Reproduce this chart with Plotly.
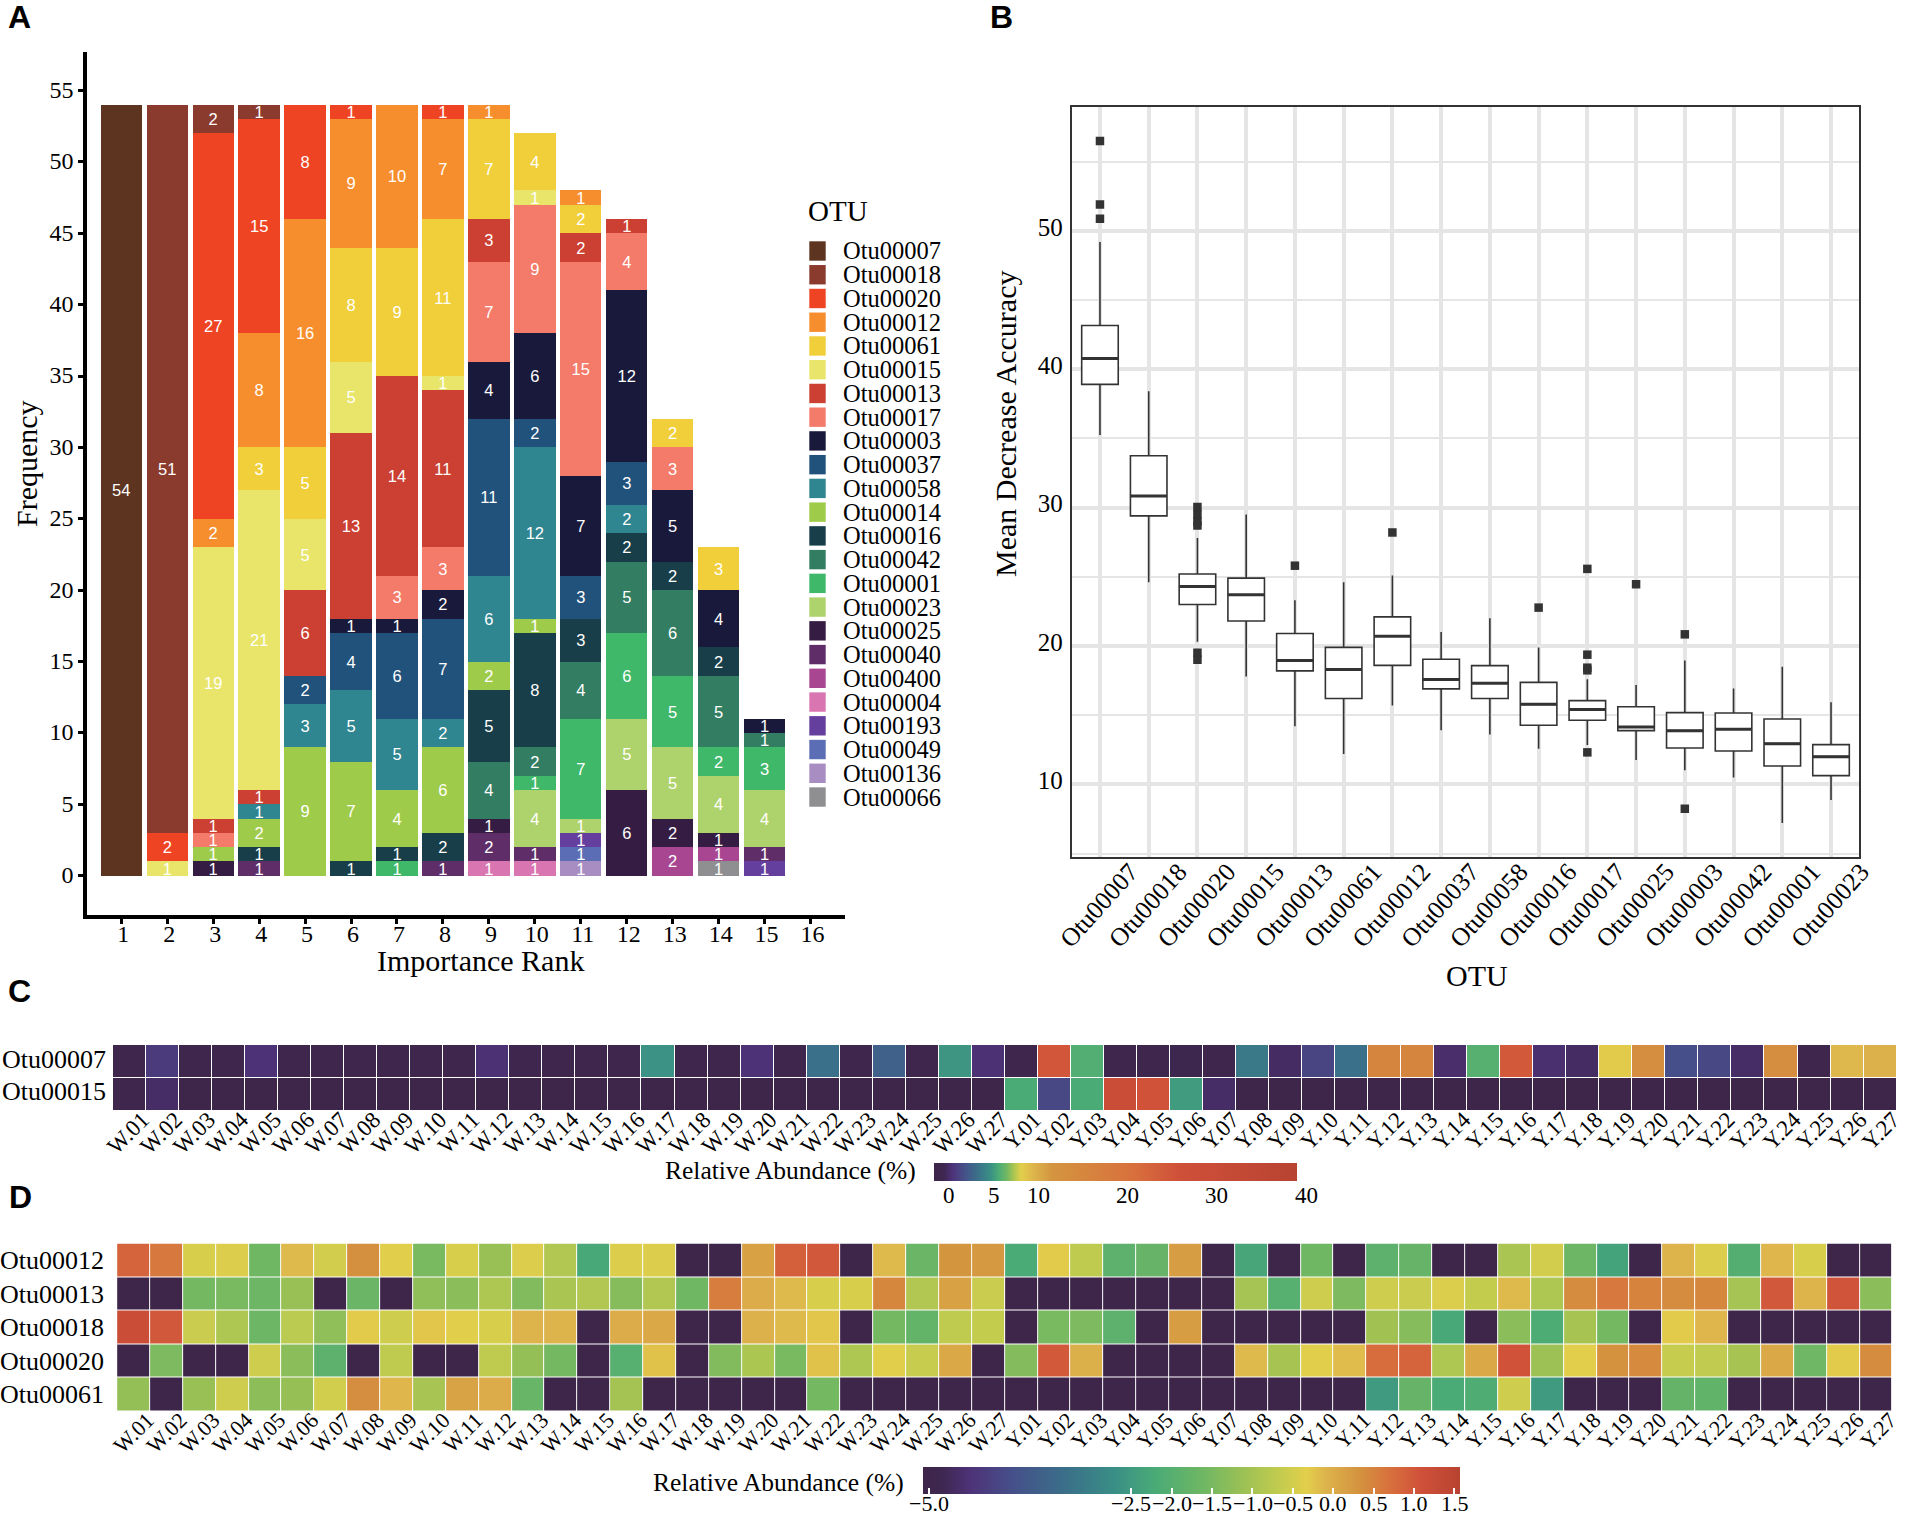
import plotly.graph_objects as go

W, H = 1906, 1520
SERIF = 'Liberation Serif'
SANS = 'Liberation Sans'

# panel A: how often each OTU sits at each importance rank (ranks 1-15)
ranks = list(range(1, 16))
otu_names = ['Otu00007', 'Otu00018', 'Otu00020', 'Otu00012', 'Otu00061', 'Otu00015',
             'Otu00013', 'Otu00017', 'Otu00003', 'Otu00037', 'Otu00058', 'Otu00014',
             'Otu00016', 'Otu00042', 'Otu00001', 'Otu00023', 'Otu00025', 'Otu00040',
             'Otu00400', 'Otu00004', 'Otu00193', 'Otu00049', 'Otu00136', 'Otu00066']
otu_colors = ['#5D341F', '#8B3A2E', '#EF4423', '#F78E2E', '#F1CF3A', '#E8E56A',
              '#CB4032', '#F47A69', '#191A3B', '#21527B', '#2F8590', '#9FCB4A',
              '#173E49', '#337E62', '#3FB86A', '#AFD36C', '#351C42', '#5F2D68',
              '#A84691', '#D975B0', '#653F9E', '#5A6DB5', '#A88DC3', '#8F8F91']
n_07 = [54, 0, 0, 0, 0, 0, 0, 0, 0, 0, 0, 0, 0, 0, 0]
n_18 = [0, 51, 2, 1, 0, 0, 0, 0, 0, 0, 0, 0, 0, 0, 0]
n_20 = [0, 2, 27, 15, 8, 1, 0, 1, 0, 0, 0, 0, 0, 0, 0]
n_12 = [0, 0, 2, 8, 16, 9, 10, 7, 1, 0, 1, 0, 0, 0, 0]
n_61 = [0, 0, 0, 3, 5, 8, 9, 11, 7, 4, 2, 0, 2, 3, 0]
n_15 = [0, 1, 19, 21, 5, 5, 0, 1, 0, 1, 0, 0, 0, 0, 0]
n_13 = [0, 0, 1, 1, 6, 13, 14, 11, 3, 0, 2, 1, 0, 0, 0]
n_17 = [0, 0, 1, 0, 0, 0, 3, 3, 7, 9, 15, 4, 3, 0, 0]
n_03 = [0, 0, 0, 0, 0, 1, 1, 2, 4, 6, 7, 12, 5, 4, 1]
n_37 = [0, 0, 0, 0, 2, 4, 6, 7, 11, 2, 3, 3, 0, 0, 0]
n_58 = [0, 0, 0, 1, 3, 5, 5, 2, 6, 12, 0, 2, 0, 0, 0]
n_14 = [0, 0, 1, 2, 9, 7, 4, 6, 2, 1, 0, 0, 0, 0, 0]
n_16 = [0, 0, 0, 1, 0, 1, 1, 2, 5, 8, 3, 2, 2, 2, 0]
n_42 = [0, 0, 0, 0, 0, 0, 0, 0, 4, 2, 4, 5, 6, 5, 1]
n_01 = [0, 0, 0, 0, 0, 0, 1, 0, 0, 1, 7, 6, 5, 2, 3]
n_23 = [0, 0, 0, 0, 0, 0, 0, 0, 0, 4, 1, 5, 5, 4, 4]
n_25 = [0, 0, 1, 0, 0, 0, 0, 0, 1, 0, 0, 6, 2, 1, 0]
n_40 = [0, 0, 0, 1, 0, 0, 0, 1, 2, 1, 0, 0, 0, 0, 1]
n_400 = [0, 0, 0, 0, 0, 0, 0, 0, 0, 0, 0, 0, 2, 1, 0]
n_04 = [0, 0, 0, 0, 0, 0, 0, 0, 1, 1, 0, 0, 0, 0, 0]
n_193 = [0, 0, 0, 0, 0, 0, 0, 0, 0, 0, 1, 0, 0, 0, 1]
n_49 = [0, 0, 0, 0, 0, 0, 0, 0, 0, 0, 1, 0, 0, 0, 0]
n_136 = [0, 0, 0, 0, 0, 0, 0, 0, 0, 0, 1, 0, 0, 0, 0]
n_66 = [0, 0, 0, 0, 0, 0, 0, 0, 0, 0, 0, 0, 0, 1, 0]
otu_counts = [n_07, n_18, n_20, n_12, n_61, n_15, n_13, n_17, n_03, n_37, n_58, n_14,
              n_16, n_42, n_01, n_23, n_25, n_40, n_400, n_04, n_193, n_49, n_136, n_66]

# panel B: box statistics
box_otus = ['Otu00007', 'Otu00018', 'Otu00020', 'Otu00015', 'Otu00013', 'Otu00061',
            'Otu00012', 'Otu00037', 'Otu00058', 'Otu00016', 'Otu00017', 'Otu00025',
            'Otu00003', 'Otu00042', 'Otu00001', 'Otu00023']
box_low = [35.25, 24.6, 20.3, 17.8, 14.2, 12.2, 15.7, 13.9, 13.6, 12.58, 12.84, 11.76, 11.01, 10.5, 7.2, 8.87]
box_q1 = [38.9, 29.4, 23.0, 21.8, 18.2, 16.2, 18.6, 16.9, 16.2, 14.27, 14.63, 13.88, 12.63, 12.41, 11.33, 10.63]
box_med = [40.77, 30.84, 24.3, 23.7, 18.95, 18.3, 20.7, 17.57, 17.3, 15.78, 15.4, 14.14, 13.88, 13.98, 12.94, 12.0]
box_q3 = [43.16, 33.74, 25.2, 24.9, 20.9, 19.9, 22.1, 19.04, 18.58, 17.37, 16.05, 15.61, 15.18, 15.16, 14.72, 12.87]
box_high = [49.2, 38.4, 27.8, 29.5, 23.3, 24.6, 25.1, 21.0, 22.0, 19.88, 17.6, 17.18, 18.94, 16.92, 18.5, 15.93]
outlier_otus = ['Otu00007', 'Otu00007', 'Otu00007', 'Otu00020', 'Otu00020', 'Otu00020', 'Otu00020',
                'Otu00020', 'Otu00020', 'Otu00013', 'Otu00012', 'Otu00016', 'Otu00017', 'Otu00017',
                'Otu00017', 'Otu00017', 'Otu00017', 'Otu00025', 'Otu00003', 'Otu00003']
outlier_vals = [56.5, 51.9, 50.87, 30.05, 29.5, 29.0, 28.7,
                19.5, 19.0, 25.8, 28.2, 22.77, 25.57, 19.37,
                18.43, 18.24, 12.31, 24.46, 20.84, 8.24]

# panels C and D: relative abundance per sample
samples = ['W.%02d' % i for i in range(1, 28)] + ['Y.%02d' % i for i in range(1, 28)]

rows_c = ['Otu00007', 'Otu00015']
c_07 = [0.6, 2.4, 0.5, 0.5, 2.0, 0.6, 0.6, 0.5, 0.4, 0.4, 0.6, 1.9, 0.8, 0.6, 0.4, 0.5, 6.3, 0.5, 0.6, 2.0, 0.5,
        4.8, 0.4, 4.1, 0.4, 6.4, 1.9,
        0.5, 26, 7.3, 0.4, 0.4, 0.9, 0.4, 5.2, 1.5, 2.8, 4.8, 17, 17, 1.7, 7.4, 25.5, 1.8, 1.5, 9.8, 15, 3.3, 3.0,
        1.6, 15, 0.5, 10.8, 11.2]
c_15 = [0.5, 1.6, 0.3, 0.3, 0.3, 0.3, 0.3, 0.3, 0.3, 0.3, 0.3, 0.3, 0.3, 0.3, 0.3, 0.3, 0.3, 0.3, 0.3, 0.3, 0.3,
        0.3, 0.3, 0.3, 0.3, 0.3, 0.3,
        7.1, 3.0, 7.1, 30, 26.5, 6.6, 1.6, 0.3, 0.3, 0.3, 0.3, 0.3, 0.3, 0.3, 0.3, 0.3, 0.3, 0.3, 0.3, 0.3, 0.3, 0.3,
        0.3, 0.3, 0.3, 0.3, 0.3]

rows_d = ['Otu00012', 'Otu00013', 'Otu00018', 'Otu00020', 'Otu00061']
d_12 = [0.85, 0.6, -0.45, -0.4, -1.6, -0.15, -0.5, 0.35, -0.35, -1.5, -0.45, -1.15, -0.4, -0.85, -2.25, -0.4, -0.4,
        -5, -5, 0.15, 0.9, 1.0, -5, -0.15, -1.7, 0.3, 0.25,
        -2.2, -0.3, -0.7, -1.9, -1.75, 0.2, -5, -2.3, -5, -1.6, -5, -1.9, -1.75, -5, -5, -0.95, -0.5, -1.65, -2.35,
        -5, -0.1, -0.4, -2.05, -0.12, -0.45, -5, -5]
d_13 = [-5, -5, -1.55, -1.5, -1.65, -1.15, -5, -1.7, -5, -1.25, -1.3, -0.9, -1.4, -0.95, -0.85, -1.35, -0.85,
        -1.6, 0.55, 0.0, -0.15, -0.45, -0.45, 0.45, -0.85, 0.15, -0.6,
        -5, -5, -5, -5, -5, -5, -5, -1.0, -2.0, -0.55, -1.45, -0.55, -0.6, -0.42, -0.65, -0.15, -0.9, 0.4, 0.6,
        0.5, 0.4, 0.45, -1.0, 1.0, -0.1, 1.05, -1.3]
d_18 = [1.2, 1.0, -0.6, -0.9, -1.65, -0.75, -1.25, -0.3, -0.55, -0.25, -0.35, -0.45, -0.1, -0.1, -5, 0.0, 0.05,
        -5, -5, -0.05, -0.15, -0.25, -5, -1.55, -1.8, -0.7, -0.65,
        -5, -1.5, -1.45, -1.9, -5, 0.2, -5, -5, -5, -5, -5, -1.05, -1.35, -2.25, -5, -1.3, -2.15, -0.98, -1.55,
        -5, -0.3, -0.12, -5, -5, -5, -5, -5]
d_20 = [-5, -1.45, -5, -5, -0.55, -1.3, -1.9, -5, -0.7, -5, -5, -0.7, -1.2, -1.55, -5, -2.0, -0.22,
        -5, -1.4, -0.92, -1.5, -0.22, -0.9, -0.35, -0.62, 0.05, -5,
        -1.38, 0.97, -0.03, -5, -5, -5, -5, -0.15, -0.98, -0.35, -0.17, 0.75, 0.85, -0.9, 0.05, 1.08, -1.1, -0.32,
        0.33, 0.42, -0.63, -0.68, -0.98, 0.05, -1.62, -0.3, 0.4]
d_61 = [-1.2, -5, -1.15, -0.55, -1.28, -1.18, -0.52, 0.38, -0.12, -0.97, 0.12, 0.0, -1.72, -5, -5, -1.02, -5,
        -5, -5, -5, -5, -1.55, -5, -5, -5, -5, -5,
        -5, -5, -5, -5, -5, -5, -5, -5, -5, -5, -5, -2.5, -1.75, -2.2, -2.12, -0.55, -2.5, -5, -5,
        -5, -1.78, -1.82, -5, -5, -5, -5, -5]

# colour stops (value, colour) for the two heat maps
c_stop_vals = [0, 1.1, 2, 3.4, 4.8, 6.2, 7.1, 8, 8.6, 9.1, 9.6, 11, 13, 22, 27, 40]
d_stop_vals = [-5.08, -4.85, -4.5, -3.95, -3.3, -2.7, -2.2, -1.6, -1.1, -0.7, -0.33, -0.1, 0.3, 0.7, 1.1, 1.57]
heat_colors = ['#3E2549', '#3E2750', '#4E3278', '#45518A', '#3A7089', '#3A8F86', '#4AAB76', '#70B763',
               '#9DC154', '#BFCB4F', '#E3CF4B', '#DDB44C', '#D4953F', '#D8703D', '#CF5039', '#B84331']
c_ticks = [0, 5, 10, 20, 30, 40]
d_ticks = [-5, -2.5, -2, -1.5, -1, -0.5, 0, 0.5, 1, 1.5]


def px(x):
    return x / W


def py(y):
    return 1 - y / H


def scale(stops, colors):
    return [[(v - stops[0]) / (stops[-1] - stops[0]), c] for v, c in zip(stops, colors)]


def label(x, y, text, size, family=SERIF, xanchor='center', angle=0, bold=False):
    if bold:
        text = '<b>' + text + '</b>'
    return dict(x=px(x), y=py(y), xref='paper', yref='paper', text=text, showarrow=False,
                xanchor=xanchor, yanchor='middle', textangle=angle,
                font=dict(family=family, size=size, color='black'))


fig = go.Figure()

# A: bottom of the stack is the last OTU in the legend
for name, color, counts in reversed(list(zip(otu_names, otu_colors, otu_counts))):
    fig.add_trace(go.Bar(
        x=ranks,
        y=[c if c > 0 else None for c in counts],
        text=[str(c) if c > 0 else '' for c in counts],
        name=name,
        width=0.9,
        marker=dict(color=color, line=dict(width=0)),
        textposition='inside',
        insidetextanchor='middle',
        textangle=0,
        insidetextfont=dict(family=SANS, size=16.5, color='white'),
        showlegend=False,
        xaxis='x', yaxis='y',
    ))

# B
fig.add_trace(go.Box(
    x=box_otus, q1=box_q1, median=box_med, q3=box_q3,
    lowerfence=box_low, upperfence=box_high,
    width=0.75, whiskerwidth=0, boxpoints=False,
    fillcolor='white',
    line=dict(color='#333333', width=1.6),
    showlegend=False,
    xaxis='x2', yaxis='y2',
))
# medians are heavier than the box outline
fig.add_trace(go.Scatter(
    x=box_otus, y=box_med, mode='markers',
    marker=dict(symbol='line-ew', size=26, line=dict(color='#333333', width=3)),
    showlegend=False, xaxis='x2', yaxis='y2',
))
fig.add_trace(go.Scatter(
    x=outlier_otus, y=outlier_vals, mode='markers',
    marker=dict(symbol='square', size=8.5, color='#333333'),
    showlegend=False, xaxis='x2', yaxis='y2',
))

# C
fig.add_trace(go.Heatmap(
    x=samples, y=rows_c, z=[c_07, c_15],
    zmin=c_stop_vals[0], zmax=c_stop_vals[-1],
    colorscale=scale(c_stop_vals, heat_colors),
    xgap=1, ygap=1,
    colorbar=dict(orientation='h', lenmode='pixels', len=362.6, thicknessmode='pixels', thickness=18,
                  x=px(934), xanchor='left', y=py(1180.7), yanchor='bottom', xpad=0, ypad=0,
                  outlinewidth=0, ticks='', showticklabels=False),
    xaxis='x3', yaxis='y3',
))

# D
fig.add_trace(go.Heatmap(
    x=samples, y=rows_d, z=[d_12, d_13, d_18, d_20, d_61],
    zmin=d_stop_vals[0], zmax=d_stop_vals[-1],
    colorscale=scale(d_stop_vals, heat_colors),
    xgap=1, ygap=1,
    colorbar=dict(orientation='h', lenmode='pixels', len=537, thicknessmode='pixels', thickness=26.6,
                  x=px(923), xanchor='left', y=py(1466.7), yanchor='top', xpad=0, ypad=0,
                  outlinewidth=0, tickmode='array', tickvals=d_ticks, showticklabels=False,
                  ticks='inside', ticklen=6, tickwidth=1.5, tickcolor='white'),
    xaxis='x4', yaxis='y4',
))

annotations = [
    label(19, 17, 'A', 32, SANS, bold=True),
    label(1002, 17, 'B', 32, SANS, bold=True),
    label(19, 991, 'C', 32, SANS, bold=True),
    label(20, 1197, 'D', 32, SANS, bold=True),
    label(26, 464, 'Frequency', 30, angle=-90),
    label(481, 960, 'Importance Rank', 30),
    label(1006, 424, 'Mean Decrease Accuracy', 30, angle=-90),
    label(1477, 975, 'OTU', 30),
    label(806, 211, 'OTU', 29, xanchor='left'),
    label(790, 1170, 'Relative Abundance (%)', 25.5),
    label(778, 1482, 'Relative Abundance (%)', 25.5),
]
# colour bar C has its numbers sitting a little right of the bar ends
for v in c_ticks:
    annotations.append(label(949 + 8.93 * v, 1195, str(v), 23))
# colour bar D numbers are closer to the bar than plotly would put them
for v in d_ticks:
    annotations.append(label(929.4 + 80.8 * (v + 5), 1503, ('%.1f' % v).replace('-', '\u2212'), 22))

# hand-made legend, the swatches are taller and tighter than plotly's own
shapes = []
for i, (name, color) in enumerate(zip(otu_names, otu_colors)):
    yc = 251 + 23.74 * i
    shapes.append(dict(type='rect', xref='paper', yref='paper', x0=px(809.3), x1=px(825.7),
                       y0=py(yc - 9.7), y1=py(yc + 9.7), fillcolor=color, line=dict(width=0)))
    annotations.append(label(840.5, yc, name, 24.5, xanchor='left'))

serif_24 = dict(family=SERIF, size=24, color='black')
fig.update_layout(
    width=W, height=H,
    margin=dict(l=0, r=0, t=0, b=0, autoexpand=False),
    paper_bgcolor='white', plot_bgcolor='white',
    barmode='stack',
    shapes=shapes,
    annotations=annotations,
    uniformtext=dict(mode='show', minsize=16.5),
    xaxis=dict(domain=[px(87), px(845)], range=[0.254, 16.75], anchor='y',
               tickmode='array', tickvals=list(range(1, 17)), tickfont=serif_24,
               ticklabelstandoff=-11, ticklabelshift=2,
               ticks='outside', ticklen=5, tickwidth=3, tickcolor='black',
               showline=True, linecolor='black', linewidth=3.5, showgrid=False, zeroline=False),
    yaxis=dict(domain=[py(915), py(52)], range=[-2.75, 57.7], anchor='x',
               tickmode='array', tickvals=list(range(0, 60, 5)), tickfont=serif_24,
               ticklabelshift=-1,
               ticks='outside', ticklen=5, tickwidth=3, tickcolor='black',
               showline=True, linecolor='black', linewidth=3.5, showgrid=False, zeroline=False),
    xaxis2=dict(domain=[px(1071.7), px(1859.3)], range=[-0.58, 15.58], anchor='y2',
                type='category', categoryorder='array', categoryarray=box_otus,
                tickangle=-48, tickfont=dict(family=SERIF, size=25.5, color='black'), ticks='',
                ticklabelshift=30, ticklabelstandoff=-12,
                showgrid=True, gridcolor='#E5E5E5', gridwidth=3.5,
                showline=True, mirror=True, linecolor='#333333', linewidth=2, zeroline=False),
    yaxis2=dict(domain=[py(856.7), py(106.7)], range=[4.77, 58.97], anchor='x2',
                tickmode='array', tickvals=[10, 20, 30, 40, 50],
                tickfont=dict(family=SERIF, size=25, color='black'), ticks='',
                ticklabelstandoff=2, ticklabelshift=-4,
                showgrid=True, gridcolor='#E5E5E5', gridwidth=3.5,
                minor=dict(tickmode='array', tickvals=[5, 15, 25, 35, 45, 55], showgrid=True,
                           gridcolor='#E5E5E5', gridwidth=2, ticks=''),
                showline=True, mirror=True, linecolor='#333333', linewidth=2, zeroline=False),
    xaxis3=dict(domain=[px(113), px(1896.6)], range=[-0.5, 53.5], anchor='y3',
                type='category', tickangle=-45, tickfont=dict(family=SERIF, size=23, color='black'),
                ticklabelshift=13, ticklabelstandoff=-10,
                ticks='', showgrid=False, showline=False, zeroline=False),
    yaxis3=dict(domain=[py(1110.7), py(1045)], range=[1.5, -0.5], anchor='x3',
                type='category', tickfont=dict(family=SERIF, size=26, color='black'),
                ticklabelstandoff=6, ticklabelshift=3,
                ticks='', showgrid=False, showline=False, zeroline=False),
    xaxis4=dict(domain=[px(117.1), px(1892.5)], range=[-0.5, 53.5], anchor='y4',
                type='category', tickangle=-45, tickfont=dict(family=SERIF, size=22, color='black'),
                ticklabelshift=14, ticklabelstandoff=-9,
                ticks='', showgrid=False, showline=False, zeroline=False),
    yaxis4=dict(domain=[py(1411), py(1243.5)], range=[4.5, -0.5], anchor='x4',
                type='category', tickfont=dict(family=SERIF, size=26, color='black'),
                ticklabelstandoff=12,
                ticks='', showgrid=False, showline=False, zeroline=False),
)

fig.write_html("out.html", config=dict(displayModeBar=False),
               post_script="document.body.style.margin='0';")
